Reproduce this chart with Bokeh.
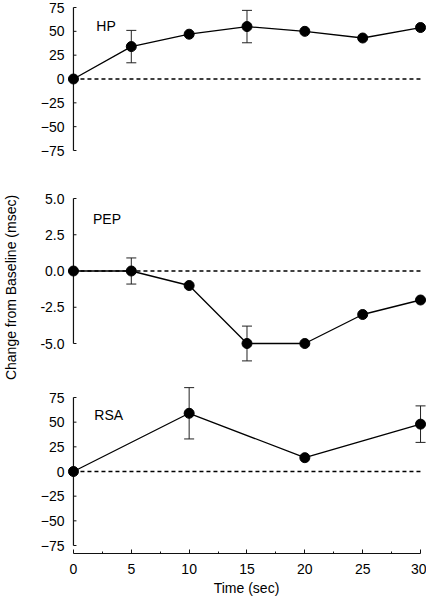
from bokeh.plotting import figure
from bokeh.layouts import column
from bokeh.models import (ColumnDataSource, Whisker, TeeHead, Label, FixedTicker,
                          Range1d, PrintfTickFormatter)
from bokeh.embed import file_html
from bokeh.resources import INLINE

# ---------------- data ----------------
hp_time = [0, 5, 10, 15, 20, 25, 30]
hp_vals = [0, 34, 47, 55, 50, 43, 54]
hp_err_time = [5, 15]
hp_err_vals = [34, 55]
hp_err = [17, 17]

pep_time = [0, 5, 10, 15, 20, 25, 30]
pep_vals = [0.0, 0.0, -1.0, -5.0, -5.0, -3.0, -2.0]
pep_err_time = [5, 15]
pep_err_vals = [0.0, -5.0]
pep_err = [0.9, 1.2]

rsa_time = [0, 10, 20, 30]
rsa_vals = [0, 59, 14, 48]
rsa_err_time = [10, 30]
rsa_err_vals = [59, 48]
rsa_err = [26, 18.5]

hp_ticks = [-75, -50, -25, 0, 25, 50, 75]
pep_ticks = [-5.0, -2.5, 0.0, 2.5, 5.0]
rsa_ticks = [-75, -50, -25, 0, 25, 50, 75]
x_ticks = [0, 5, 10, 15, 20, 25, 30]
x_minor = [2.5, 7.5, 12.5, 17.5, 22.5, 27.5]

panel_names = ["HP", "PEP", "RSA"]
y_title = "Change from Baseline (msec)"
x_title = "Time (sec)"

# ---------------- layout constants ----------------
FONT = "Liberation Sans"
FS = "14px"
INK = "#111111"
W = 426
LEFT = 64
X0_PX, X1_PX = 71, 420          # pixel position (in figure) of x=0 and x=30
xs = (X1_PX - X0_PX) / 30.0
x_range = Range1d(-(X0_PX - LEFT) / xs, 30 + (W - X1_PX) / xs)


def make_panel(height, top_px, bot_px, tick_lo, tick_hi, bottom_border, ticks,
               fmt=None, xaxis=False, ylabel=None):
    frame_h = height - bottom_border
    scale = (bot_px - top_px) / float(tick_hi - tick_lo)
    y_end = tick_hi + top_px / scale
    y_start = y_end - frame_h / scale
    p = figure(width=W, height=height, x_range=x_range,
               y_range=Range1d(y_start, y_end),
               output_backend="svg", toolbar_location=None,
               x_axis_location="below" if xaxis else None,
               min_border_left=LEFT, min_border_right=0, min_border_top=0,
               min_border_bottom=bottom_border)
    p.outline_line_color = None
    p.xgrid.visible = False
    p.ygrid.visible = False
    p.background_fill_color = "white"
    p.border_fill_color = "white"
    ya = p.yaxis[0]
    ya.ticker = FixedTicker(ticks=ticks)
    if fmt:
        ya.formatter = PrintfTickFormatter(format=fmt)
    ya.axis_line_color = None
    ya.major_tick_line_color = None
    ya.minor_tick_line_color = None
    ya.major_tick_in = 0
    ya.major_tick_out = 0
    ya.minor_tick_in = 0
    ya.minor_tick_out = 0
    ya.major_label_standoff = 2
    ya.major_label_text_font = FONT
    ya.major_label_text_font_size = FS
    ya.major_label_text_color = "black"
    if ylabel:
        ya.axis_label = ylabel
        ya.axis_label_text_font = FONT
        ya.axis_label_text_font_size = FS
        ya.axis_label_text_font_style = "normal"
        ya.axis_label_text_color = "black"
        ya.axis_label_standoff = 18
    # y spine drawn at time 0, limited to the tick span, with small inward ticks
    p.segment(x0=[0], y0=[tick_lo], x1=[0], y1=[tick_hi], line_color=INK, line_width=1.2)
    p.ray(x=[0] * len(ticks), y=ticks, length=3, length_units="screen", angle=0,
          line_color=INK, line_width=1)
    if xaxis:
        xa = p.xaxis[0]
        xa.bounds = (0, 30)
        xa.ticker = FixedTicker(ticks=x_ticks, minor_ticks=x_minor)
        xa.major_tick_in = 4
        xa.major_tick_out = 0
        xa.minor_tick_in = 2
        xa.minor_tick_out = 0
        xa.major_label_standoff = 10
        xa.major_label_text_font = FONT
        xa.major_label_text_font_size = FS
        xa.major_label_text_color = "black"
        xa.axis_label = x_title
        xa.axis_label_text_font = FONT
        xa.axis_label_text_font_size = FS
        xa.axis_label_text_font_style = "normal"
        xa.axis_label_text_color = "black"
        xa.axis_label_standoff = 3
        xa.axis_line_color = INK
        xa.axis_line_width = 1.2
        xa.major_tick_line_color = INK
        xa.minor_tick_line_color = INK
    return p


def draw(p, t, v, et, ev, ee, name, lx, ly):
    p.line(x=[t[0], t[-1]], y=[0, 0], line_color="black", line_width=1.3,
           line_dash="4 3")
    src = ColumnDataSource(dict(x=et, upper=[a + b for a, b in zip(ev, ee)],
                                lower=[a - b for a, b in zip(ev, ee)]))
    p.add_layout(Whisker(source=src, base="x", upper="upper", lower="lower",
                         dimension="height", line_color="#222222", line_width=1,
                         upper_head=TeeHead(size=10, line_color="#222222", line_width=1),
                         lower_head=TeeHead(size=10, line_color="#222222", line_width=1)))
    p.line(x=t, y=v, line_color="black", line_width=1.3)
    p.scatter(x=t, y=v, size=10, marker="circle", fill_color="black", line_color="black")
    p.add_layout(Label(x=lx, y=ly, text=name, text_font=FONT, text_font_size=FS,
                       text_color="black", text_baseline="alphabetic"))


# HP: figure 0..189 px
p1 = make_panel(189, 7, 150, -75, 75, 0, hp_ticks)
draw(p1, hp_time, hp_vals, hp_err_time, hp_err_vals, hp_err, panel_names[0], 1.98, 56)

# PEP: figure 189..385 px
p2 = make_panel(196, 9, 154, -5, 5, 0, pep_ticks, fmt="%.1f", ylabel=y_title)
draw(p2, pep_time, pep_vals, pep_err_time, pep_err_vals, pep_err, panel_names[1], 1.69, 3.6)

# RSA: figure 385..600 px
p3 = make_panel(215, 12, 160, -75, 75, 47, rsa_ticks, xaxis=True)
draw(p3, rsa_time, rsa_vals, rsa_err_time, rsa_err_vals, rsa_err, panel_names[2], 1.8, 56.8)

layout = column(p1, p2, p3, spacing=0)
open("out.html", "w").write(file_html(layout, INLINE))
